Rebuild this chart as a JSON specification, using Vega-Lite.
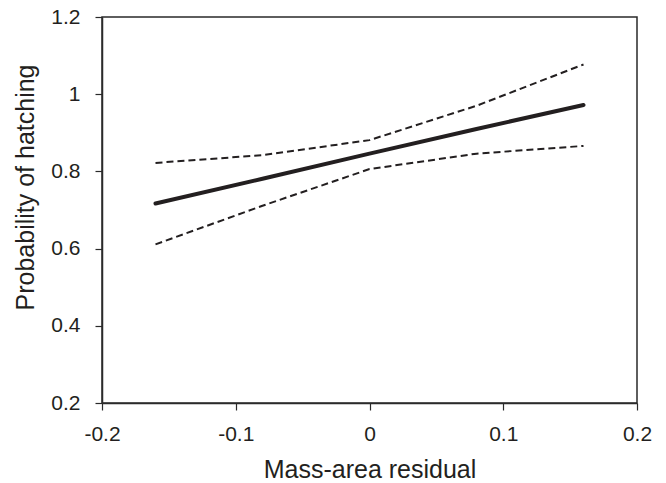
{
  "$schema": "https://vega.github.io/schema/vega-lite/v6.json",
  "width": 535,
  "height": 386,
  "autosize": {"type": "none"},
  "padding": {"left": 102, "top": 17, "right": 29, "bottom": 80},
  "background": "white",
  "config": {
    "view": {"stroke": "#2a2a2a", "strokeWidth": 1.5},
    "font": "Liberation Sans",
    "axis": {
      "grid": false,
      "domainColor": "#2a2a2a",
      "domainWidth": 1.5,
      "tickColor": "#2a2a2a",
      "tickWidth": 1.2,
      "tickSize": 7,
      "labelFont": "Liberation Sans",
      "labelFontSize": 21,
      "labelColor": "#231f20",
      "titleFont": "Liberation Sans",
      "titleFontSize": 25,
      "titleFontWeight": "normal",
      "titleColor": "#231f20"
    }
  },
  "data": {
    "values": [
      {"x": -0.16, "y": 0.717, "series": "fit"},
      {"x": -0.08, "y": 0.781, "series": "fit"},
      {"x": 0.0, "y": 0.846, "series": "fit"},
      {"x": 0.08, "y": 0.910, "series": "fit"},
      {"x": 0.16, "y": 0.972, "series": "fit"},
      {"x": -0.16, "y": 0.822, "series": "upper"},
      {"x": -0.08, "y": 0.842, "series": "upper"},
      {"x": 0.0, "y": 0.881, "series": "upper"},
      {"x": 0.08, "y": 0.970, "series": "upper"},
      {"x": 0.16, "y": 1.077, "series": "upper"},
      {"x": -0.16, "y": 0.611, "series": "lower"},
      {"x": -0.08, "y": 0.711, "series": "lower"},
      {"x": 0.0, "y": 0.806, "series": "lower"},
      {"x": 0.08, "y": 0.846, "series": "lower"},
      {"x": 0.16, "y": 0.866, "series": "lower"}
    ]
  },
  "encoding": {
    "x": {
      "field": "x",
      "type": "quantitative",
      "scale": {"domain": [-0.2, 0.2], "nice": false, "zero": false},
      "axis": {
        "values": [-0.2, -0.1, 0, 0.1, 0.2],
        "labelExpr": "'' + datum.value",
        "labelBaseline": "alphabetic",
        "labelPadding": 30,
        "labelFlush": false,
        "title": "Mass-area residual",
        "titleX": 267.5,
        "titleY": 74,
        "titleBaseline": "alphabetic",
        "titleAlign": "center"
      }
    },
    "y": {
      "field": "y",
      "type": "quantitative",
      "scale": {"domain": [0.2, 1.2], "nice": false, "zero": false},
      "axis": {
        "values": [0.2, 0.4, 0.6, 0.8, 1, 1.2],
        "labelExpr": "'' + datum.value",
        "labelPadding": 15,
        "labelFlush": false,
        "labelBaseline": "middle",
        "title": "Probability of hatching",
        "titleX": -69,
        "titleY": 170,
        "titleAngle": -90,
        "titleBaseline": "alphabetic",
        "titleAlign": "center"
      }
    }
  },
  "layer": [
    {
      "transform": [{"filter": "datum.series !== 'fit'"}],
      "mark": {"type": "line", "color": "#231f20", "strokeWidth": 2, "strokeDash": [7, 4]},
      "encoding": {"detail": {"field": "series"}}
    },
    {
      "transform": [{"filter": "datum.series === 'fit'"}],
      "mark": {"type": "line", "color": "#231f20", "strokeWidth": 4, "strokeCap": "round"},
      "encoding": {}
    }
  ]
}
